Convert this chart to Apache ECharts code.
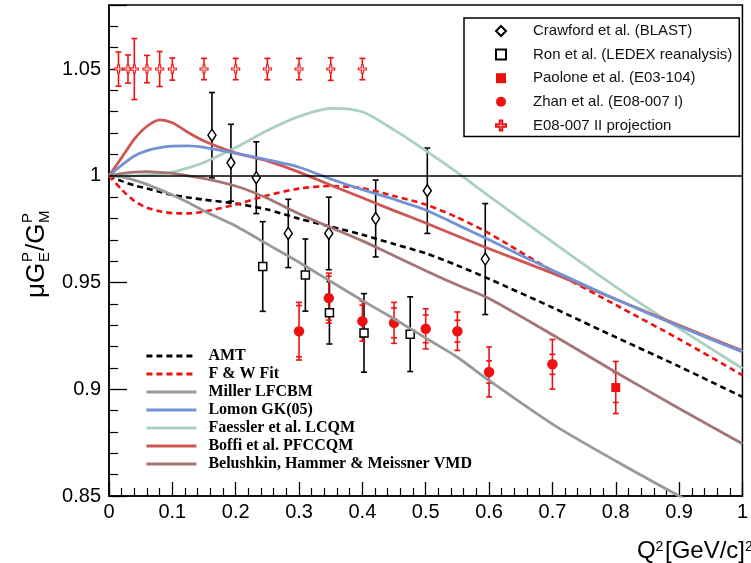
<!DOCTYPE html>
<html><head><meta charset="utf-8">
<script src="https://cdn.jsdelivr.net/npm/echarts@6/dist/echarts.min.js"></script>
<style>html,body{margin:0;padding:0;background:#fff}#c{width:751px;height:563px}</style>
</head><body><div id="c"></div>
<script>
// ---- theory curves ----
const curveX     = [0,0.02,0.04,0.06,0.08,0.1,0.125,0.15,0.2,0.25,0.3,0.35,0.4,0.45,0.5,0.55,0.6,0.7,0.8,0.9,1.0];
const amtY       = [1.0,0.9975,0.9955,0.994,0.9925,0.991,0.9898,0.9888,0.987,0.9842,0.9799,0.9762,0.9724,0.968,0.9637,0.958,0.9517,0.9383,0.9244,0.9107,0.8964];
const fwY        = [1.0,0.9935,0.9882,0.985,0.9834,0.9825,0.9824,0.9832,0.9865,0.9908,0.994,0.9952,0.9942,0.9905,0.9865,0.9805,0.973,0.9555,0.9395,0.9235,0.9066];
const millerY    = [1.0,0.9995,0.998,0.996,0.9935,0.991,0.9875,0.9835,0.9765,0.968,0.9595,0.9505,0.9416,0.933,0.924,0.915,0.9041,0.8837,0.8664,0.85,0.834];
const lomonY     = [1.0,1.005,1.0093,1.0118,1.0132,1.0139,1.014,1.0133,1.0105,1.0075,1.004,0.9985,0.9935,0.989,0.984,0.977,0.97,0.9557,0.9422,0.9295,0.9175];
const faesslerY  = [1.0,1.0,1.0,1.0003,1.0008,1.0017,1.0037,1.0062,1.0132,1.0212,1.0278,1.0316,1.03,1.0215,1.0118,1.0015,0.9905,0.969,0.948,0.9285,0.9097];
const boffiY     = [1.0,1.0085,1.0172,1.0232,1.0262,1.0248,1.0203,1.0163,1.0107,1.007,1.0017,0.9956,0.9897,0.9837,0.9779,0.9718,0.9658,0.9544,0.9422,0.9300,0.9180];
const belushkinY = [1.0,1.001,1.0017,1.0019,1.0016,1.0011,1.0,0.9988,0.9952,0.9895,0.9822,0.9758,0.9695,0.9625,0.9555,0.9488,0.9425,0.9255,0.908,0.891,0.8745];

// ---- data points ----
const crawfordX   = [0.1625,0.1925,0.2325,0.283,0.347,0.421,0.5025,0.594];
const crawfordY   = [1.019,1.0061,0.9991,0.973,0.973,0.980,0.993,0.961];
const crawfordErr = [0.020,0.018,0.0168,0.016,0.017,0.018,0.020,0.026];

const ronX   = [0.2427,0.31,0.348,0.4026,0.4755];
const ronY   = [0.9575,0.9535,0.9358,0.9264,0.9258];
const ronErr = [0.021,0.0169,0.0146,0.0184,0.0175];

const paoloneX    = [0.8];
const paoloneY    = [0.9008];
const paoloneErr  = [0.0122];
const paoloneStat = [0.007];

const zhanX    = [0.3,0.347,0.4,0.45,0.5,0.55,0.6,0.7];
const zhanY    = [0.9272,0.9427,0.9319,0.9311,0.9283,0.9272,0.9081,0.9117];
const zhanErr  = [0.0135,0.0117,0.0094,0.0096,0.0094,0.009,0.0117,0.0116];
const zhanStat = [0.012,0.0103,0.0075,0.007,0.0065,0.0051,0.0052,0.0047];

const projX   = [0.015,0.03,0.04,0.06,0.08,0.1,0.15,0.2,0.25,0.3,0.35,0.4];
const projY   = [1.05,1.05,1.05,1.05,1.05,1.05,1.05,1.05,1.05,1.05,1.05,1.05];
const projErr = [0.008,0.0066,0.0143,0.0064,0.0082,0.0052,0.005,0.005,0.005,0.005,0.0053,0.005];

const xTicks = [0,0.1,0.2,0.3,0.4,0.5,0.6,0.7,0.8,0.9,1];
const yTicks = [0.85,0.9,0.95,1,1.05];

const RED = '#ee1111';
const SANS = '"Liberation Sans", Arial, sans-serif';
const SERIF = '"Liberation Serif", "Times New Roman", serif';

function pairs(xs, ys) { return xs.map((x, i) => [x, ys[i]]); }
function rows(xs, ys, es, ss) { return xs.map((x, i) => [x, ys[i], es[i], ss ? ss[i] : 0]); }

function errorBars(color, lw) {
  return function (params, api) {
    const x = api.value(0), y = api.value(1), e = api.value(2), s = api.value(3);
    const pt = api.coord([x, y + e]), pb = api.coord([x, y - e]);
    const cw = 3;
    const st = { stroke: color, lineWidth: lw };
    const ch = [
      { type: 'line', shape: { x1: pt[0], y1: pt[1], x2: pb[0], y2: pb[1] }, style: st },
      { type: 'line', shape: { x1: pt[0] - cw, y1: pt[1], x2: pt[0] + cw, y2: pt[1] }, style: st },
      { type: 'line', shape: { x1: pb[0] - cw, y1: pb[1], x2: pb[0] + cw, y2: pb[1] }, style: st }
    ];
    if (s > 0) {
      const qt = api.coord([x, y + s]), qb = api.coord([x, y - s]);
      ch.push({ type: 'line', shape: { x1: qt[0] - cw, y1: qt[1], x2: qt[0] + cw, y2: qt[1] }, style: st });
      ch.push({ type: 'line', shape: { x1: qb[0] - cw, y1: qb[1], x2: qb[0] + cw, y2: qb[1] }, style: st });
    }
    return { type: 'group', children: ch };
  };
}

function curve(name, ys, color, dashed) {
  return {
    name: name, type: 'line', data: pairs(curveX, ys), showSymbol: false, symbol: 'none',
    smooth: 0.25, clip: true,
    lineStyle: { color: color, width: dashed ? 2.6 : 2.8, type: dashed ? [6, 4] : 'solid' },
    itemStyle: { color: color }
  };
}

const series = [
  Object.assign(curve('AMT', amtY, '#000000', true), {
    markLine: { silent: true, symbol: ['none', 'none'], label: { show: false },
      lineStyle: { color: '#000', width: 1.5, type: 'solid' }, data: [{ yAxis: 1 }] }
  }),
  curve('F & W Fit', fwY, RED, true),
  curve('Miller LFCBM', millerY, '#999999', false),
  curve('Faessler et al. LCQM', faesslerY, '#abcfc0', false),
  curve('Boffi et al. PFCCQM', boffiY, '#cf5552', false),
  curve('Lomon GK(05)', lomonY, '#7392d2', false),
  curve('Belushkin, Hammer & Meissner VMD', belushkinY, '#a67474', false),
  { type: 'custom', data: rows(crawfordX, crawfordY, crawfordErr), renderItem: errorBars('#000', 1.6), encode: { x: 0, y: 1 }, clip: true },
  { type: 'custom', data: rows(ronX, ronY, ronErr), renderItem: errorBars('#000', 1.6), encode: { x: 0, y: 1 }, clip: true },
  { type: 'custom', data: rows(paoloneX, paoloneY, paoloneErr, paoloneStat), renderItem: errorBars(RED, 1.6), encode: { x: 0, y: 1 }, clip: true },
  { type: 'custom', data: rows(zhanX, zhanY, zhanErr, zhanStat), renderItem: errorBars(RED, 1.6), encode: { x: 0, y: 1 }, clip: true },
  { type: 'custom', data: rows(projX, projY, projErr), renderItem: errorBars(RED, 1.6), encode: { x: 0, y: 1 }, clip: true },
  { name: 'Crawford et al. (BLAST)', type: 'scatter', data: pairs(crawfordX, crawfordY), symbol: 'diamond', symbolSize: [8, 12],
    itemStyle: { color: '#fff', borderColor: '#000', borderWidth: 1.5, opacity: 1 } },
  { name: 'Ron et al. (LEDEX reanalysis)', type: 'scatter', data: pairs(ronX, ronY), symbol: 'rect', symbolSize: 8,
    itemStyle: { color: '#fff', borderColor: '#000', borderWidth: 1.5, opacity: 1 } },
  { name: 'Paolone et al. (E03-104)', type: 'scatter', data: pairs(paoloneX, paoloneY), symbol: 'rect', symbolSize: 9,
    itemStyle: { color: RED, opacity: 1 } },
  { name: 'Zhan et al. (E08-007 I)', type: 'scatter', data: pairs(zhanX, zhanY), symbol: 'circle', symbolSize: 10.5,
    itemStyle: { color: RED, opacity: 1 } },
  { name: 'E08-007 II projection', type: 'scatter', data: pairs(projX, projY),
    symbol: 'path://M3,0H5V3H8V5H5V8H3V5H0V3H3Z', symbolSize: 8,
    itemStyle: { color: '#fff', borderColor: RED, borderWidth: 1.1, opacity: 1 } }
];

const chart = echarts.init(document.getElementById('c'), null, { renderer: 'canvas' });
chart.setOption({
  animation: false,
  backgroundColor: '#fff',
  grid: { left: 109, top: 5, width: 642, height: 491, show: true, borderColor: '#000', borderWidth: 1.5, backgroundColor: 'transparent' },
  xAxis: {
    type: 'value', min: xTicks[0], max: xTicks[xTicks.length - 1], interval: 0.1,
    axisLine: { show: true, onZero: false, lineStyle: { color: '#000', width: 1.5 } },
    axisTick: { show: true, inside: true, length: 14, lineStyle: { color: '#000', width: 1.3 } },
    minorTick: { show: true, splitNumber: 5, length: 8, lineStyle: { color: '#000', width: 1.2 } },
    splitLine: { show: false },
    axisLabel: { color: '#000', fontFamily: SANS, fontSize: 20, margin: 6,
      formatter: v => String(+v.toFixed(1)) }
  },
  yAxis: {
    type: 'value', min: yTicks[0], max: 1.08, interval: 0.05,
    axisLine: { show: true, onZero: false, lineStyle: { color: '#000', width: 1.5 } },
    axisTick: { show: true, inside: true, length: 18, lineStyle: { color: '#000', width: 1.3 } },
    minorTick: { show: true, splitNumber: 5, length: 9, lineStyle: { color: '#000', width: 1.2 } },
    splitLine: { show: false },
    axisLabel: { color: '#000', fontFamily: SANS, fontSize: 20, margin: 8,
      formatter: v => (Math.abs(v * 20 - Math.round(v * 20)) < 1e-6 ? String(+v.toFixed(2)) : '') }
  },
  legend: [
    {
      data: ['Crawford et al. (BLAST)', 'Ron et al. (LEDEX reanalysis)', 'Paolone et al. (E03-104)', 'Zhan et al. (E08-007 I)', 'E08-007 II projection'],
      orient: 'vertical', left: 464, top: 18, padding: [5, 7, 3, 31],
      itemWidth: 10, itemHeight: 10, itemGap: 7.6,
      borderColor: '#000', borderWidth: 1.5, backgroundColor: '#fff',
      selectedMode: false,
      textStyle: { fontFamily: SANS, fontSize: 15, color: '#111', lineHeight: 16, padding: [0, 0, 0, 22] }
    },
    {
      data: ['AMT', 'F & W Fit', 'Miller LFCBM', 'Lomon GK(05)', 'Faessler et al. LCQM', 'Boffi et al. PFCCQM', 'Belushkin, Hammer & Meissner VMD'],
      orient: 'vertical', left: 145, top: 347, padding: 0,
      itemWidth: 50, itemHeight: 14, itemGap: 0,
      selectedMode: false,
      itemStyle: { opacity: 0 },
      lineStyle: { width: 2.8 },
      textStyle: { fontFamily: SERIF, fontWeight: 'bold', fontSize: 16, color: '#000', lineHeight: 18, padding: [0, 0, 0, 7] }
    }
  ],
  graphic: [
    {
      type: 'group', x: 37, y: 298, rotation: Math.PI / 2, silent: true,
      children: [
        { type: 'text', x: 0, y: 0, style: { text: 'μG', font: '26px ' + SANS, fill: '#000', textVerticalAlign: 'middle' } },
        { type: 'text', x: 36, y: -9, style: { text: 'P', font: '15px ' + SANS, fill: '#000', textVerticalAlign: 'middle' } },
        { type: 'text', x: 36, y: 8, style: { text: 'E', font: '15px ' + SANS, fill: '#000', textVerticalAlign: 'middle' } },
        { type: 'text', x: 47, y: 0, style: { text: '/G', font: '26px ' + SANS, fill: '#000', textVerticalAlign: 'middle' } },
        { type: 'text', x: 75, y: -9, style: { text: 'P', font: '15px ' + SANS, fill: '#000', textVerticalAlign: 'middle' } },
        { type: 'text', x: 75, y: 8, style: { text: 'M', font: '15px ' + SANS, fill: '#000', textVerticalAlign: 'middle' } }
      ]
    },
    { type: 'text', x: 637, y: 551.5, silent: true, style: { text: 'Q', font: '24px ' + SANS, fill: '#000', textVerticalAlign: 'middle' } },
    { type: 'text', x: 655.5, y: 547, silent: true, style: { text: '2', font: '14px ' + SANS, fill: '#000', textVerticalAlign: 'middle' } },
    { type: 'text', x: 665, y: 551.5, silent: true, style: { text: '[GeV/c]', font: '24px ' + SANS, fill: '#000', textVerticalAlign: 'middle' } },
    { type: 'text', x: 745, y: 547, silent: true, style: { text: '2', font: '14px ' + SANS, fill: '#000', textVerticalAlign: 'middle' } }
  ],
  series: series
});
</script>
</body></html>
